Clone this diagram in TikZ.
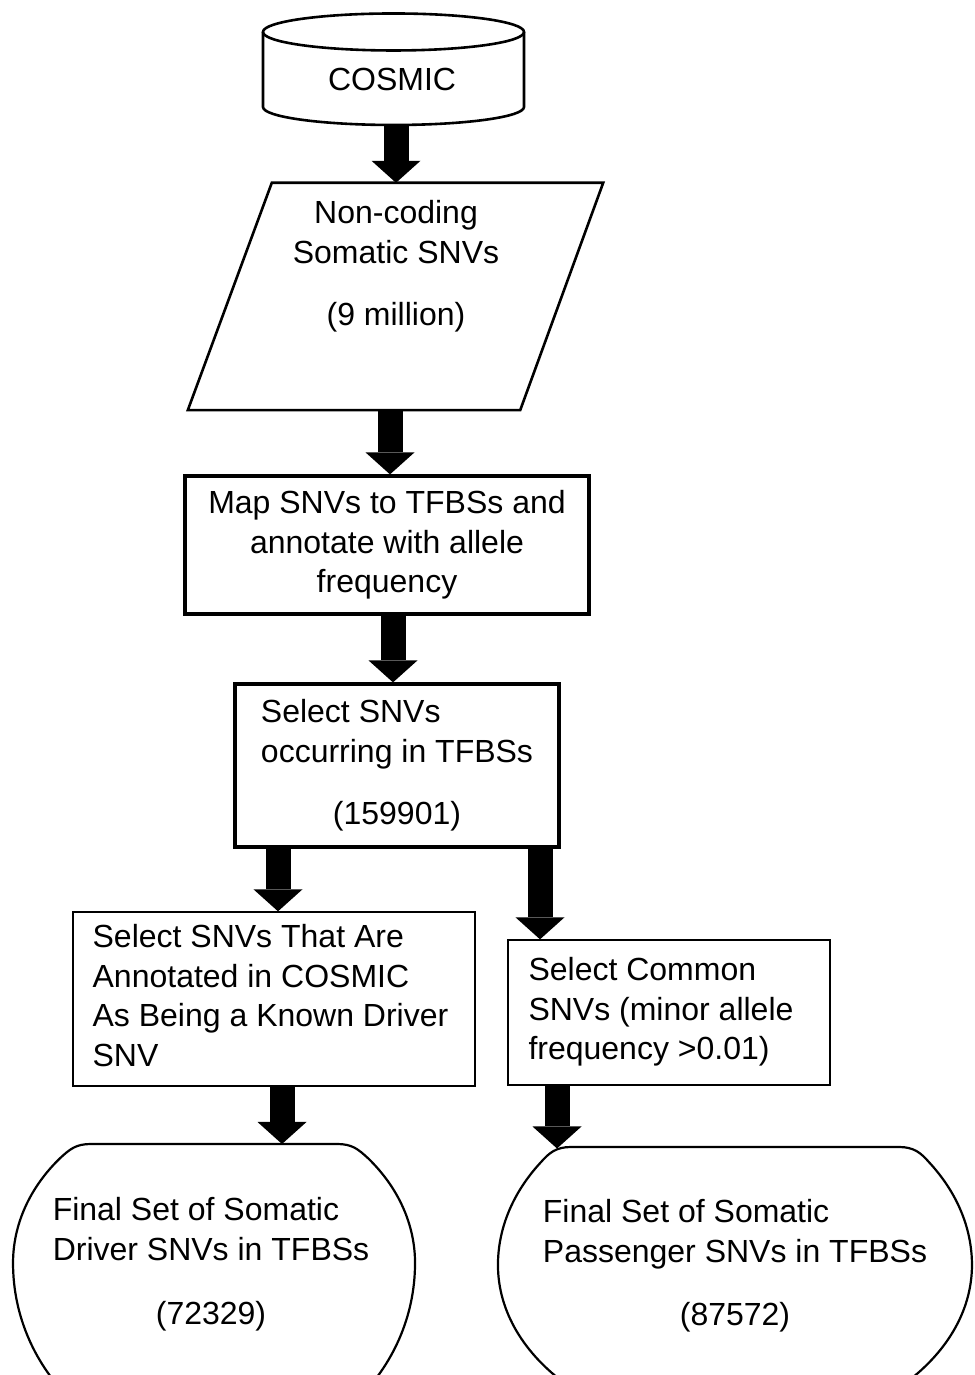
\documentclass[tikz,border=0pt]{standalone}
\usepackage{fontspec}
\setmainfont{Liberation Sans}
\usetikzlibrary{arrows.meta}

\begin{document}
\begin{tikzpicture}[x=1pt, y=1pt,
        every node/.style={font=\fontsize{32}{39.5}\selectfont},
        box/.style={draw, line width=3.2pt, inner sep=0pt},
        thinbox/.style={draw, line width=1.3pt, inner sep=0pt},
        fat/.style={line width=25pt, -{Triangle[width=49pt, length=22pt, line width=0pt]}}]
        \useasboundingbox (0,0) rectangle (974,1375);
        \clip (0,0) rectangle (974,1375);

        % database on top
        \draw [line width=2.6pt] (263,1343) -- (263,1268)
            arc [start angle=180, end angle=360, x radius=130.5, y radius=18] -- (524,1343);
        \draw [line width=2.6pt] (393.5,1343) ellipse [x radius=130.5, y radius=18.5];
        \node (cosmic) at (392,1295) {COSMIC};
        \coordinate (cosmicbase) at (396,1250);

        % input data
        \node [minimum width=415pt, minimum height=227pt, inner sep=0pt] (snv) at (395.5,1078.5) {};
        \draw [line width=2.6pt] ([xshift=84pt]snv.north west) -- (snv.north east)
            -- ([xshift=-83pt]snv.south east) -- (snv.south west) -- cycle;
        \node [align=center] (snvtext) at (396,1109) {Non-coding\\Somatic SNVs\\[22.5pt](9 million)};

        \node [box, minimum width=404pt, minimum height=138pt, align=center] (map) at (387,830)
            {Map SNVs to TFBSs and\\annotate with allele\\frequency};

        \node [box, minimum width=324pt, minimum height=163pt] (tfbs) at (397,609.5)
            {\begin{tabular}{@{}l@{}}Select SNVs\\occurring in TFBSs\\[22.5pt]\multicolumn{1}{@{}c@{}}{(159901)}\end{tabular}};

        \node [thinbox, minimum width=402pt, minimum height=174pt] (driversel) at (274,376)
            {\begin{tabular}{@{}l@{\hspace{7pt}}}Select SNVs That Are\\Annotated in COSMIC\\As Being a Known Driver\\SNV\end{tabular}};
        \node [thinbox, minimum width=322pt, minimum height=145pt] (common) at (669,362.5)
            {\begin{tabular}{@{}l@{\hspace{16pt}}}Select Common\\SNVs (minor allele\\frequency >0.01)\end{tabular}};

        % final sets
        \draw [line width=2.2pt] (91,231) -- (282,231) coordinate (drivertop) -- (337,231)
            .. controls (352,231) and (358,226) .. (368,216.8)
            arc [start angle=40, end angle=0, x radius=201, y radius=163]
            arc [start angle=0, end angle=-90, x radius=201, y radius=195]
            arc [start angle=270, end angle=180, x radius=201, y radius=195]
            arc [start angle=180, end angle=140, x radius=201, y radius=163]
            .. controls (70,226) and (76,231) .. (91,231) -- cycle;
        \node (driver) at (211,110.5)
            {\begin{tabular}{@{}l@{}}Final Set of Somatic\\Driver SNVs in TFBSs\\[24.5pt]\multicolumn{1}{@{}c@{}}{(72329)}\end{tabular}};

        \draw [line width=2.2pt] (571,228) -- (899,228)
            .. controls (914,228) and (921,222) .. (929.1,212.7)
            arc [start angle=35, end angle=0, x radius=237, y radius=179]
            arc [start angle=0, end angle=-90, x radius=237, y radius=170]
            arc [start angle=270, end angle=180, x radius=237, y radius=170]
            arc [start angle=180, end angle=145, x radius=237, y radius=179]
            .. controls (549,222) and (556,228) .. (571,228) -- cycle;
        \coordinate (passtop) at (557,226.5);
        \node (passenger) at (735,109)
            {\begin{tabular}{@{}l@{}}Final Set of Somatic\\Passenger SNVs in TFBSs\\[23.5pt]\multicolumn{1}{@{}c@{}}{(87572)}\end{tabular}};

        % block arrows
        \draw [fat] (cosmicbase) -- ([xshift=0.5pt]snv.north);
        \draw [fat] ([xshift=-5.5pt]snv.south) -- ([xshift=3pt]map.north);
        \draw [fat] ([xshift=6pt]map.south) -- ([xshift=-4pt]tfbs.north);
        \draw [fat] ([xshift=-119pt]tfbs.south) -- ([xshift=4pt]driversel.north);
        \draw [fat] ([xshift=143pt]tfbs.south) -- ([xshift=-129pt]common.north);
        \draw [fat] ([xshift=8pt]driversel.south) -- (drivertop);
        \draw [fat] ([xshift=-112pt]common.south) -- (passtop);
    \end{tikzpicture}
\end{document}
